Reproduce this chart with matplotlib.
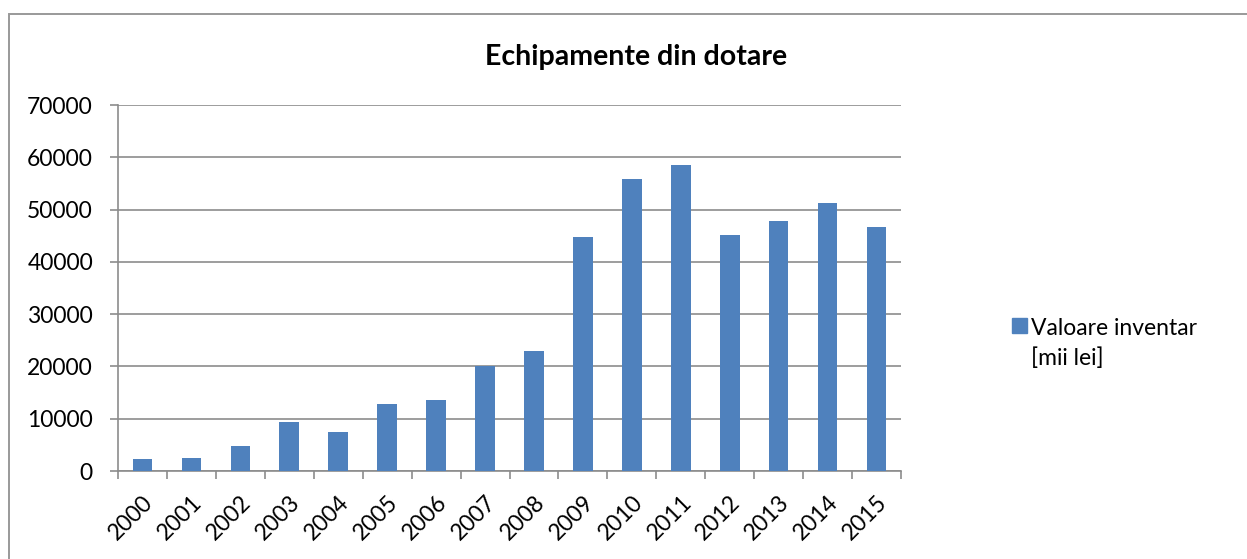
import matplotlib.pyplot as plt
from matplotlib.patches import Rectangle, Patch

# Data
years = ['2000', '2001', '2002', '2003', '2004', '2005', '2006', '2007',
         '2008', '2009', '2010', '2011', '2012', '2013', '2014', '2015']
values = [2240, 2490, 4780, 9370, 7460, 12810, 13580, 20130,
          22940, 44800, 55890, 58450, 45060, 47800, 51300, 46590]
y_ticks = [0, 10000, 20000, 30000, 40000, 50000, 60000, 70000]

title = 'Echipamente din dotare'
series_label = 'Valoare inventar\n[mii lei]'

bar_color = '#4F81BD'
grid_color = '#8C8C8C'

plt.rcParams['font.family'] = ['Lato', 'DejaVu Sans']

fig = plt.figure(figsize=(12.47, 5.59), dpi=100)
ax = fig.add_axes([118 / 1247, 1 - 471 / 559, (901 - 118) / 1247, (471 - 105) / 559])

# outer chart frame
fig.patches.append(Rectangle((9 / 1247, -0.05), 1.1, 1 - 14 / 559 + 0.05,
                             transform=fig.transFigure, fill=False,
                             edgecolor='#999999', linewidth=1.4))

x = range(len(years))
ax.bar(x, values, width=0.4, color=bar_color, zorder=3, label=series_label)

ax.set_xlim(-0.5, len(years) - 0.5)
ax.set_ylim(0, 70000)
ax.set_yticks(y_ticks)
ax.set_yticklabels([str(v) for v in y_ticks], fontsize=16.5)
ax.yaxis.grid(True, color=grid_color, linewidth=1.2, zorder=0)

ax.set_xticks([i - 0.5 for i in range(len(years) + 1)])
ax.set_xticklabels([])
ax.set_xticks(list(x), minor=True)
ax.set_xticklabels(years, minor=True, rotation=45, ha='right',
                   rotation_mode='anchor', fontsize=16.5)
ax.tick_params(axis='x', which='minor', length=0, pad=15)
ax.tick_params(axis='x', which='major', length=6, color=grid_color, width=1.2)
ax.tick_params(axis='y', length=6, color=grid_color, width=1.2, pad=12)

for side in ['top', 'right']:
    ax.spines[side].set_visible(False)
for side in ['left', 'bottom']:
    ax.spines[side].set_color(grid_color)
    ax.spines[side].set_linewidth(1.2)

fig.text(636 / 1247, 1 - 57 / 559, title, ha='center', va='center',
         fontsize=20.5, fontweight='bold')

leg = fig.legend(handles=[Patch(color=bar_color, label=series_label)],
                 loc='upper left', bbox_to_anchor=(1012 / 1247, 1 - 318 / 559),
                 frameon=False, fontsize=16.5, handlelength=0.64, handleheight=0.64,
                 handletextpad=0.2, borderaxespad=0, borderpad=0)
leg.get_texts()[0].set_linespacing(1.5)
# keep the square next to the first line, as in the original
for col in leg._legend_handle_box.get_children():
    for row in col.get_children():
        row.align = 'top'

fig.savefig('out.png', dpi=100)
